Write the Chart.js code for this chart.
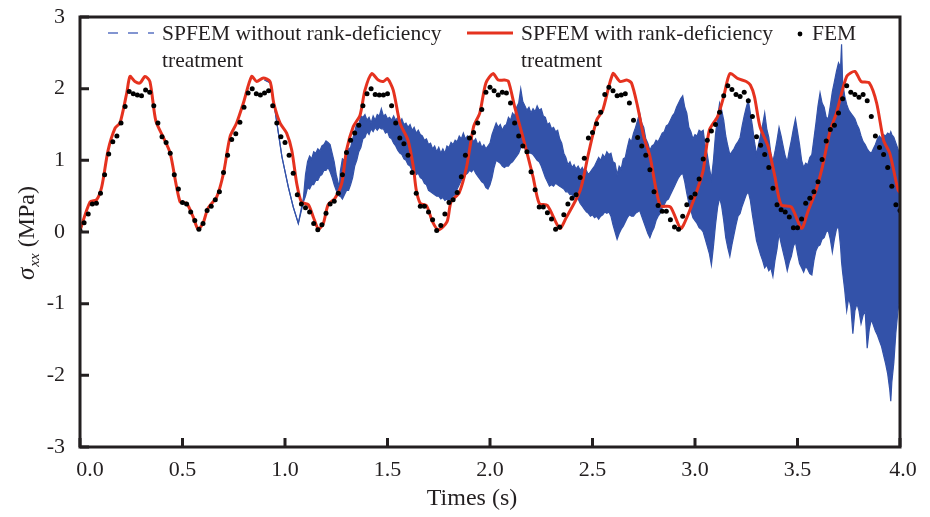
<!DOCTYPE html>
<html>
<head>
<meta charset="utf-8">
<script src="https://cdn.jsdelivr.net/npm/chart.js@4.4.1/dist/chart.umd.min.js"></script>
<style>
html, body { margin: 0; padding: 0; background: #fff; }
</style>
</head>
<body>
<canvas id="stressChart" width="930" height="517"></canvas>
<script>
// axis ticks
const xTicks = [0, 0.5, 1.0, 1.5, 2.0, 2.5, 3.0, 3.5, 4.0];
const xTickLabels = ['0.0', '0.5', '1.0', '1.5', '2.0', '2.5', '3.0', '3.5', '4.0'];
const yTicks = [-3, -2, -1, 0, 1, 2, 3];

// SPFEM with rank-deficiency treatment : [time, stress]
const redCurve = [
  [0,0.02],[0.049,0.42],[0.081,0.45],[0.106,0.63],[0.137,1.14],[0.171,1.45],[0.195,1.52],[0.228,1.94],
  [0.244,2.17],[0.268,2.10],[0.293,2.08],[0.317,2.17],[0.341,2.10],[0.37,1.55],[0.41,1.30],[0.44,1.10],
  [0.488,0.42],[0.52,0.40],[0.552,0.21],[0.576,0.04],[0.6,0.12],[0.624,0.33],[0.667,0.49],[0.70,0.82],
  [0.732,1.33],[0.764,1.52],[0.797,1.80],[0.837,2.17],[0.862,2.10],[0.894,2.15],[0.927,2.10],[0.945,1.80],
  [0.976,1.52],[1.008,1.38],[1.033,1.14],[1.057,0.68],[1.08,0.42],[1.114,0.38],[1.138,0.21],[1.163,0.04],
  [1.187,0.12],[1.21,0.38],[1.244,0.47],[1.277,0.68],[1.30,1.14],[1.333,1.47],[1.366,1.63],[1.39,1.98],
  [1.423,2.21],[1.455,2.12],[1.48,2.10],[1.50,2.14],[1.528,1.98],[1.561,1.52],[1.60,1.28],[1.626,0.91],
  [1.64,0.59],[1.66,0.40],[1.69,0.37],[1.72,0.14],[1.748,0.03],[1.79,0.14],[1.81,0.42],[1.85,0.55],
  [1.886,0.91],[1.92,1.47],[1.95,1.66],[1.98,2.08],[2.015,2.21],[2.04,2.12],[2.07,2.12],[2.09,2.10],
  [2.12,1.75],[2.16,1.33],[2.21,0.77],[2.24,0.40],[2.28,0.37],[2.34,0.05],[2.37,0.19],[2.44,0.58],
  [2.48,1.09],[2.52,1.56],[2.55,1.70],[2.60,2.21],[2.634,2.10],[2.667,2.12],[2.69,2.08],[2.72,1.75],
  [2.75,1.33],[2.78,1.06],[2.83,0.37],[2.88,0.35],[2.93,0.05],[2.96,0.20],[3.01,0.58],[3.04,0.86],
  [3.07,1.42],[3.11,1.61],[3.14,1.89],[3.17,2.21],[3.21,2.14],[3.25,2.10],[3.27,2.05],[3.29,1.89],
  [3.317,1.47],[3.357,1.19],[3.39,0.77],[3.42,0.38],[3.47,0.35],[3.52,0.05],[3.55,0.28],[3.59,0.58],
  [3.62,0.89],[3.66,1.42],[3.69,1.66],[3.74,2.17],[3.78,2.24],[3.81,2.10],[3.85,2.08],[3.886,1.80],
  [3.92,1.28],[3.95,1.10],[3.99,0.59],[4.0,0.55]
];

// SPFEM without rank-deficiency treatment : [time, upper, lower] of the oscillation band
const blueBand = [
  [0.90,2.12,2.12],[0.93,2.08,2.08],[0.95,1.72,1.72],[0.985,1.05,1.05],[1.016,0.63,0.63],[1.04,0.35,0.35],
  [1.065,0.12,0.12],[1.09,0.48,0.42],[1.10,0.80,0.50],[1.11,0.98,0.62],[1.12,1.06,0.60],[1.13,1.02,0.66],
  [1.14,1.12,0.66],[1.15,1.10,0.72],[1.16,1.16,0.72],[1.17,1.13,0.78],[1.18,1.20,0.80],[1.19,1.22,0.86],
  [1.20,1.27,0.86],[1.21,1.25,0.90],[1.22,1.22,0.84],[1.23,1.10,0.76],[1.24,0.98,0.66],[1.25,0.80,0.58],
  [1.265,0.62,0.50],[1.27,0.85,0.50],[1.28,1.02,0.46],[1.29,1.00,0.52],[1.30,1.08,0.58],[1.31,1.16,0.58],
  [1.32,1.18,0.66],[1.33,1.30,0.76],[1.34,1.40,0.92],[1.35,1.52,1.00],[1.36,1.50,1.12],[1.37,1.62,1.18],
  [1.38,1.60,1.30],[1.39,1.64,1.32],[1.40,1.56,1.40],[1.41,1.60,1.36],[1.42,1.52,1.44],[1.43,1.62,1.40],
  [1.44,1.56,1.46],[1.45,1.64,1.42],[1.46,1.62,1.46],[1.47,1.72,1.44],[1.48,1.62,1.44],[1.49,1.64,1.38],
  [1.50,1.58,1.40],[1.51,1.60,1.32],[1.52,1.56,1.30],[1.53,1.62,1.24],[1.54,1.56,1.20],[1.55,1.60,1.14],
  [1.56,1.54,1.10],[1.57,1.58,1.08],[1.58,1.50,1.02],[1.59,1.52,1.00],[1.60,1.46,0.94],[1.61,1.50,0.92],
  [1.62,1.42,0.86],[1.63,1.46,0.88],[1.64,1.38,0.80],[1.65,1.42,0.82],[1.66,1.36,0.76],[1.67,1.34,0.74],
  [1.68,1.28,0.68],[1.69,1.30,0.66],[1.70,1.22,0.58],[1.71,1.24,0.56],[1.72,1.16,0.54],[1.73,1.20,0.52],
  [1.74,1.12,0.50],[1.75,1.18,0.50],[1.76,1.10,0.46],[1.77,1.16,0.48],[1.78,1.10,0.44],[1.79,1.20,0.46],
  [1.80,1.18,0.42],[1.81,1.25,0.46],[1.82,1.22,0.50],[1.83,1.28,0.52],[1.84,1.26,0.60],[1.85,1.34,0.66],
  [1.86,1.30,0.72],[1.87,1.38,0.74],[1.88,1.30,0.80],[1.89,1.34,0.82],[1.90,1.28,0.86],[1.91,1.32,0.84],
  [1.92,1.26,0.88],[1.93,1.30,0.82],[1.94,1.22,0.78],[1.95,1.26,0.74],[1.96,1.18,0.70],[1.97,1.22,0.68],
  [1.98,1.16,0.62],[1.99,1.20,0.60],[2.00,1.24,0.66],[2.01,1.36,0.76],[2.02,1.44,0.90],[2.03,1.52,1.00],
  [2.04,1.46,0.98],[2.05,1.50,0.96],[2.06,1.42,0.92],[2.07,1.48,0.90],[2.08,1.50,0.92],[2.09,1.60,0.92],
  [2.10,1.56,0.96],[2.11,1.66,0.98],[2.12,1.62,1.02],[2.13,1.74,1.06],[2.14,1.80,1.10],[2.15,2.00,1.18],
  [2.16,1.82,1.20],[2.17,1.76,1.16],[2.18,1.70,1.14],[2.19,1.74,1.10],[2.20,1.66,1.10],[2.21,1.72,1.08],
  [2.22,1.68,1.04],[2.23,1.76,1.00],[2.24,1.70,0.98],[2.25,1.72,0.92],[2.26,1.62,0.84],[2.27,1.60,0.76],
  [2.28,1.50,0.70],[2.29,1.52,0.64],[2.30,1.44,0.66],[2.31,1.46,0.64],[2.32,1.40,0.68],[2.33,1.42,0.66],
  [2.34,1.30,0.64],[2.35,1.24,0.62],[2.36,1.10,0.60],[2.37,1.04,0.56],[2.38,0.94,0.56],[2.39,0.98,0.52],
  [2.40,0.90,0.52],[2.41,0.94,0.48],[2.42,0.88,0.50],[2.43,0.92,0.46],[2.44,0.86,0.40],[2.45,0.90,0.36],
  [2.46,0.84,0.32],[2.47,0.86,0.28],[2.48,0.80,0.26],[2.49,0.84,0.22],[2.50,0.88,0.24],[2.51,0.92,0.20],
  [2.52,0.98,0.22],[2.53,1.04,0.18],[2.54,1.00,0.22],[2.55,1.08,0.24],[2.56,1.04,0.28],[2.57,1.12,0.26],
  [2.58,1.08,0.28],[2.59,1.10,0.22],[2.60,0.98,0.10],[2.61,0.96,0.00],[2.62,0.80,-0.10],[2.63,0.92,-0.02],
  [2.64,0.88,0.04],[2.65,1.02,0.08],[2.66,1.04,0.14],[2.67,1.18,0.20],[2.68,1.30,0.24],[2.69,1.26,0.22],
  [2.70,1.38,0.22],[2.71,1.46,0.26],[2.72,1.56,0.28],[2.73,1.66,0.30],[2.74,1.52,0.22],[2.75,1.46,0.14],
  [2.76,1.30,0.06],[2.77,1.24,-0.02],[2.78,1.14,-0.08],[2.79,1.20,0.00],[2.80,1.22,0.06],[2.81,1.28,0.16],
  [2.82,1.26,0.22],[2.83,1.32,0.26],[2.84,1.38,0.34],[2.85,1.40,0.38],[2.86,1.48,0.44],[2.87,1.50,0.46],
  [2.88,1.56,0.52],[2.89,1.62,0.58],[2.90,1.66,0.64],[2.91,1.74,0.70],[2.92,1.80,0.76],[2.93,1.86,0.80],
  [2.94,1.90,0.82],[2.95,1.74,0.70],[2.96,1.66,0.54],[2.97,1.46,0.40],[2.98,1.40,0.30],[2.99,1.30,0.20],
  [3.00,1.36,0.16],[3.01,1.34,0.12],[3.02,1.42,0.06],[3.03,1.40,0.04],[3.04,1.42,0.00],[3.05,1.20,-0.10],
  [3.06,1.08,-0.20],[3.07,0.90,-0.30],[3.08,0.74,-0.46],[3.09,1.00,-0.20],[3.10,1.36,0.10],[3.11,1.60,0.34],
  [3.12,1.80,0.48],[3.13,1.70,0.36],[3.14,1.56,0.16],[3.15,1.34,-0.08],[3.16,1.20,-0.22],[3.17,1.08,-0.34],
  [3.18,1.12,-0.18],[3.19,1.16,-0.04],[3.20,1.22,0.10],[3.21,1.26,0.22],[3.22,1.32,0.26],[3.23,1.48,0.36],
  [3.24,1.62,0.44],[3.25,1.74,0.52],[3.26,1.84,0.56],[3.27,1.66,0.44],[3.28,1.48,0.24],[3.29,1.26,0.06],
  [3.30,1.08,-0.12],[3.31,1.22,-0.22],[3.32,1.36,-0.32],[3.33,1.50,-0.40],[3.34,1.66,-0.50],[3.35,1.44,-0.46],
  [3.36,1.32,-0.54],[3.37,1.10,-0.50],[3.38,0.98,-0.62],[3.39,1.12,-0.40],[3.40,1.28,-0.24],[3.41,1.46,-0.02],
  [3.42,1.34,-0.16],[3.43,1.20,-0.28],[3.44,1.06,-0.40],[3.45,0.98,-0.54],[3.46,1.14,-0.42],[3.47,1.28,-0.34],
  [3.48,1.44,-0.20],[3.49,1.58,-0.14],[3.50,1.40,-0.30],[3.51,1.22,-0.44],[3.52,1.00,-0.50],[3.53,0.90,-0.56],
  [3.54,0.96,-0.48],[3.55,0.94,-0.52],[3.56,1.04,-0.58],[3.57,1.08,-0.60],[3.58,1.30,-0.40],[3.59,1.52,-0.26],
  [3.60,1.76,-0.20],[3.61,1.94,-0.18],[3.62,1.80,-0.10],[3.63,1.74,-0.08],[3.64,1.60,0.00],[3.65,1.58,0.02],
  [3.66,1.76,-0.10],[3.67,1.96,-0.28],[3.68,2.10,-0.10],[3.69,2.24,0.04],[3.70,2.36,0.08],[3.71,2.30,-0.20],
  [3.715,2.62,-0.42],[3.72,2.10,-0.56],[3.73,1.90,-0.80],[3.74,1.78,-1.10],[3.75,1.70,-0.92],[3.76,1.66,-1.04],
  [3.77,1.62,-1.42],[3.78,1.58,-1.10],[3.79,1.50,-1.00],[3.80,1.44,-1.10],[3.81,1.34,-1.28],[3.82,1.26,-1.16],
  [3.83,1.22,-1.10],[3.84,1.16,-1.62],[3.85,1.12,-1.36],[3.86,1.10,-1.22],[3.87,1.16,-1.30],[3.88,1.22,-1.38],
  [3.89,1.30,-1.44],[3.90,1.34,-1.52],[3.91,1.30,-1.60],[3.92,1.36,-1.72],[3.93,1.34,-1.84],[3.94,1.38,-1.98],
  [3.95,1.36,-2.20],[3.955,1.40,-2.36],[3.96,1.36,-2.10],[3.97,1.32,-1.82],[3.98,1.24,-1.40],[3.99,1.16,-1.10],
  [4.00,1.04,-0.90]
];

// FEM reference, one point every femStep seconds
const femStep = 0.02;
const femStress = [
  0.02, 0.13, 0.25, 0.39, 0.40, 0.54, 0.80, 1.09, 1.26, 1.34,
  1.52, 1.75, 1.96, 1.93, 1.91, 1.90, 1.98, 1.95, 1.76, 1.52,
  1.33, 1.25, 1.10, 0.80, 0.60, 0.41, 0.39, 0.28, 0.16, 0.04,
  0.12, 0.30, 0.36, 0.45, 0.56, 0.83, 1.07, 1.29, 1.37, 1.53,
  1.74, 1.94, 2.00, 1.93, 1.91, 1.94, 1.97, 1.76, 1.52, 1.33,
  1.25, 1.07, 0.82, 0.52, 0.39, 0.34, 0.28, 0.12, 0.03, 0.10,
  0.26, 0.39, 0.43, 0.54, 0.80, 1.11, 1.28, 1.38, 1.49, 1.76,
  1.93, 2.00, 1.92, 1.91, 1.91, 1.93, 1.76, 1.52, 1.31, 1.23,
  1.07, 0.83, 0.54, 0.36, 0.36, 0.28, 0.17, 0.02, 0.09, 0.25,
  0.41, 0.45, 0.55, 0.77, 1.07, 1.31, 1.39, 1.52, 1.71, 1.95,
  2.02, 1.97, 1.91, 1.95, 1.94, 1.80, 1.52, 1.34, 1.20, 1.12,
  0.84, 0.59, 0.35, 0.35, 0.27, 0.18, 0.04, 0.07, 0.24, 0.39,
  0.47, 0.52, 0.76, 1.03, 1.31, 1.39, 1.51, 1.67, 1.92, 2.02,
  1.97, 1.90, 1.91, 1.93, 1.80, 1.56, 1.32, 1.20, 1.07, 0.87,
  0.56, 0.37, 0.29, 0.29, 0.17, 0.07, 0.04, 0.22, 0.38, 0.48,
  0.53, 0.74, 1.02, 1.28, 1.41, 1.50, 1.67, 1.90, 2.04, 1.99,
  1.92, 1.89, 1.95, 1.83, 1.61, 1.33, 1.21, 1.08, 0.90, 0.61,
  0.38, 0.31, 0.28, 0.21, 0.06, 0.06, 0.18, 0.40, 0.47, 0.56,
  0.70, 1.01, 1.27, 1.43, 1.49, 1.66, 1.86, 2.04, 1.95, 1.92,
  1.88, 1.92, 1.83, 1.61, 1.34, 1.18, 1.08, 0.90, 0.64, 0.38,
  0.30
];

const BLUE = '#3352a9';
const RED = '#e5321f';
const INK = '#231f20';
const SERIF = "'Liberation Serif', 'Times New Roman', serif";

// frame, inner ticks, tick labels, axis titles and legend
const decorations = {
  id: 'decorations',
  afterDraw(chart) {
    const ctx = chart.ctx;
    const area = chart.chartArea;
    const xs = chart.scales.x, ys = chart.scales.y;
    ctx.save();
    ctx.strokeStyle = INK;
    ctx.fillStyle = INK;
    ctx.lineWidth = 3;
    ctx.strokeRect(area.left, area.top, area.right - area.left, area.bottom - area.top);

    ctx.beginPath();
    xTicks.forEach(v => {
      const px = xs.getPixelForValue(v);
      ctx.moveTo(px, area.bottom);
      ctx.lineTo(px, area.bottom - 9);
    });
    yTicks.forEach(v => {
      const py = ys.getPixelForValue(v);
      ctx.moveTo(area.left, py);
      ctx.lineTo(area.left + 9, py);
    });
    ctx.stroke();

    ctx.font = '22px ' + SERIF;
    ctx.textBaseline = 'middle';
    ctx.textAlign = 'center';
    xTicks.forEach((v, i) => {
      let px = xs.getPixelForValue(v);
      if (i === 0) px += 10;
      if (i === xTicks.length - 1) px += 3;
      ctx.fillText(xTickLabels[i], px, area.bottom + 23);
    });
    ctx.textAlign = 'right';
    yTicks.forEach(v => {
      ctx.fillText(String(v), area.left - 15, ys.getPixelForValue(v));
    });

    // x title
    ctx.textAlign = 'center';
    ctx.textBaseline = 'alphabetic';
    ctx.font = '24px ' + SERIF;
    ctx.fillText('Times (s)', 472, 505);

    // y title
    ctx.save();
    ctx.translate(34, 233);
    ctx.rotate(-Math.PI / 2);
    ctx.textAlign = 'left';
    const fSig = 'italic 25px ' + SERIF, fSub = 'italic 15px ' + SERIF, fTxt = '24px ' + SERIF;
    ctx.font = fSig; const wSig = ctx.measureText('\u03c3').width;
    ctx.font = fSub; const wSub = ctx.measureText('xx').width;
    ctx.font = fTxt; const wTxt = ctx.measureText(' (MPa)').width;
    let x0 = -(wSig + wSub + 1 + wTxt) / 2;
    ctx.font = fSig; ctx.fillText('\u03c3', x0, 0);
    x0 += wSig + 1;
    ctx.font = fSub; ctx.fillText('xx', x0, 5);
    x0 += wSub;
    ctx.font = fTxt; ctx.fillText(' (MPa)', x0, 0);
    ctx.restore();

    // legend
    ctx.font = '21.5px ' + SERIF;
    ctx.textAlign = 'left';
    ctx.textBaseline = 'alphabetic';
    ctx.fillStyle = INK;
    ctx.fillText('SPFEM without rank-deficiency', 162, 40);
    ctx.fillText('treatment', 162, 67);
    ctx.fillText('SPFEM with rank-deficiency', 521, 40);
    ctx.fillText('treatment', 521, 67);
    ctx.fillText('FEM', 812, 40);

    ctx.strokeStyle = '#5a73c2';
    ctx.lineWidth = 1.5;
    ctx.setLineDash([10, 10]);
    ctx.beginPath(); ctx.moveTo(108, 33); ctx.lineTo(154, 33); ctx.stroke();
    ctx.setLineDash([]);
    ctx.strokeStyle = RED;
    ctx.lineWidth = 3;
    ctx.beginPath(); ctx.moveTo(467, 33); ctx.lineTo(513, 33); ctx.stroke();
    ctx.fillStyle = '#000';
    ctx.beginPath(); ctx.arc(800, 34, 2.4, 0, Math.PI * 2); ctx.fill();
    ctx.restore();
  }
};

const ctx = document.getElementById('stressChart').getContext('2d');
const chart = new Chart(ctx, {
  type: 'line',
  data: {
    datasets: [
      {
        label: 'FEM',
        data: femStress.map((v, i) => ({ x: i * femStep, y: v })),
        showLine: false,
        pointRadius: 2.5,
        pointBackgroundColor: '#000',
        pointBorderWidth: 0,
        order: 0
      },
      {
        label: 'SPFEM with rank-deficiency treatment',
        data: redCurve.map(p => ({ x: p[0], y: p[1] })),
        borderColor: RED,
        borderWidth: 3,
        pointRadius: 0,
        tension: 0.25,
        order: 1
      },
      {
        label: 'SPFEM without rank-deficiency treatment',
        data: blueBand.map(p => ({ x: p[0], y: p[1] })),
        borderColor: BLUE,
        backgroundColor: BLUE,
        borderWidth: 1.2,
        pointRadius: 0,
        fill: '+1',
        order: 2
      },
      {
        label: 'lower',
        data: blueBand.map(p => ({ x: p[0], y: p[2] })),
        borderColor: BLUE,
        borderWidth: 1.2,
        pointRadius: 0,
        fill: false,
        order: 3
      }
    ]
  },
  options: {
    responsive: false,
    animation: false,
    layout: { padding: { left: 0, right: 30, top: 17, bottom: 0 } },
    plugins: {
      legend: { display: false },
      tooltip: { enabled: false }
    },
    scales: {
      x: {
        type: 'linear', min: 0, max: 4,
        ticks: { display: false },
        grid: { display: false },
        border: { display: false },
        afterFit: s => { s.height = 70; }
      },
      y: {
        min: -3, max: 3,
        ticks: { display: false },
        grid: { display: false },
        border: { display: false },
        afterFit: s => { s.width = 80; }
      }
    }
  },
  plugins: [decorations]
});
</script>
</body>
</html>
